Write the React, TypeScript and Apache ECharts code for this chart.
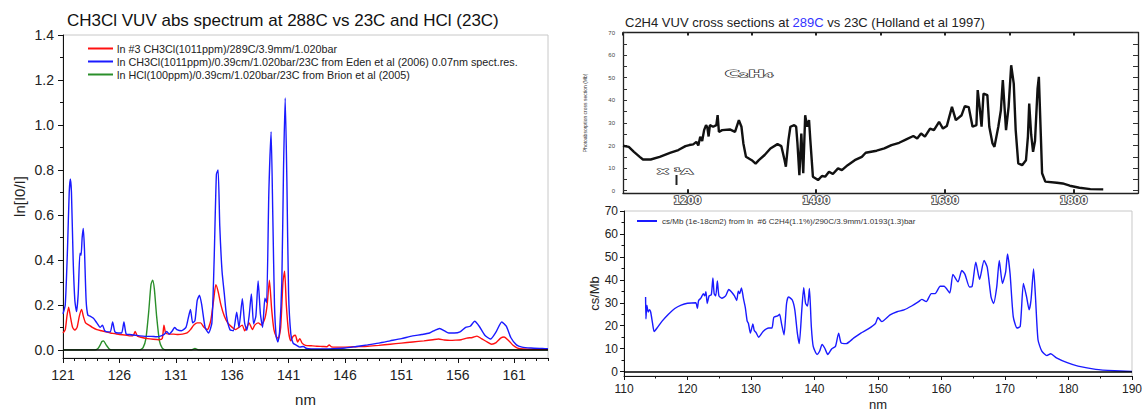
import React, { useEffect, useRef } from "react";
import * as echarts from "echarts";

const FONT = "'Liberation Sans', Arial, Helvetica, sans-serif";

// ---------- Left chart: CH3Cl / HCl ln[I0/I] vs nm ----------
const ch3clHotName = "ln #3 CH3Cl(1011ppm)/289C/3.9mm/1.020bar";
const ch3clEdenName = "ln CH3Cl(1011ppm)/0.39cm/1.020bar/23C from Eden et al (2006) 0.07nm spect.res.";
const hclName = "ln HCl(100ppm)/0.39cm/1.020bar/23C from Brion et al (2005)";

const ch3clHot: [number, number][] = [
  [121.0, 0.075], [121.2, 0.09], [121.35, 0.15], [121.5, 0.19], [121.65, 0.15], [121.85, 0.1],
  [122.05, 0.088], [122.25, 0.1], [122.45, 0.15], [122.65, 0.18], [122.8, 0.15], [123.0, 0.12],
  [123.3, 0.11], [123.6, 0.1], [124.0, 0.09], [124.4, 0.085], [124.8, 0.08], [125.2, 0.075],
  [125.6, 0.072], [126.0, 0.068], [126.5, 0.066], [127.0, 0.062], [127.25, 0.065], [127.4, 0.082],
  [127.6, 0.06], [128.0, 0.055], [128.5, 0.05], [129.0, 0.047], [129.5, 0.045], [129.8, 0.05],
  [129.95, 0.11], [130.1, 0.075], [130.4, 0.07], [130.8, 0.07], [131.2, 0.068], [131.6, 0.07],
  [132.0, 0.075], [132.3, 0.09], [132.6, 0.11], [132.9, 0.12], [133.2, 0.12], [133.5, 0.1],
  [133.8, 0.09], [134.1, 0.13], [134.35, 0.22], [134.55, 0.29], [134.75, 0.26], [135.0, 0.2],
  [135.3, 0.15], [135.6, 0.12], [136.0, 0.1], [136.3, 0.09], [136.6, 0.1], [136.9, 0.11],
  [137.1, 0.085], [137.3, 0.1], [137.5, 0.12], [137.8, 0.09], [138.0, 0.11], [138.3, 0.12],
  [138.6, 0.11], [138.9, 0.14], [139.1, 0.2], [139.3, 0.31], [139.5, 0.18], [139.7, 0.09],
  [139.9, 0.06], [140.1, 0.05], [140.3, 0.1], [140.5, 0.3], [140.65, 0.35], [140.8, 0.2],
  [141.0, 0.08], [141.2, 0.04], [141.4, 0.06], [141.6, 0.065], [141.8, 0.035], [142.0, 0.05],
  [142.2, 0.03], [142.5, 0.02], [143.0, 0.018], [143.5, 0.016], [144.0, 0.015], [144.4, 0.014],
  [144.6, 0.022], [144.8, 0.013], [145.2, 0.012], [146.0, 0.012], [147.0, 0.014], [148.0, 0.016],
  [149.0, 0.02], [150.0, 0.025], [151.0, 0.03], [152.0, 0.035], [153.0, 0.04], [153.8, 0.045],
  [154.3, 0.048], [154.8, 0.044], [155.3, 0.042], [155.8, 0.043], [156.3, 0.045], [156.8, 0.052],
  [157.3, 0.055], [157.7, 0.061], [158.1, 0.05], [158.6, 0.035], [159.0, 0.025], [159.4, 0.032],
  [159.8, 0.052], [160.1, 0.057], [160.5, 0.042], [160.9, 0.02], [161.3, 0.008], [161.8, 0.004],
  [162.5, 0.003], [163.5, 0.002], [164.0, 0.002],
];

const ch3clEden: [number, number][] = [
  [121.0, 0.16], [121.2, 0.2], [121.4, 0.45], [121.55, 0.7], [121.65, 0.76], [121.75, 0.7],
  [121.9, 0.4], [122.05, 0.22], [122.2, 0.17], [122.35, 0.25], [122.5, 0.43], [122.6, 0.42],
  [122.7, 0.5], [122.8, 0.54], [122.9, 0.45], [123.05, 0.22], [123.2, 0.155], [123.4, 0.15],
  [123.7, 0.14], [124.0, 0.12], [124.3, 0.1], [124.5, 0.11], [124.7, 0.085], [125.0, 0.08],
  [125.2, 0.08], [125.4, 0.124], [125.6, 0.08], [125.9, 0.075], [126.2, 0.075], [126.4, 0.124],
  [126.6, 0.07], [126.9, 0.068], [127.3, 0.066], [127.8, 0.062], [128.3, 0.06], [128.8, 0.06],
  [129.3, 0.058], [129.7, 0.062], [130.0, 0.07], [130.2, 0.082], [130.4, 0.07], [130.7, 0.085],
  [130.9, 0.1], [131.1, 0.09], [131.5, 0.085], [131.9, 0.1], [132.1, 0.14], [132.3, 0.18],
  [132.5, 0.12], [132.7, 0.13], [132.9, 0.22], [133.1, 0.243], [133.3, 0.2], [133.6, 0.1],
  [133.9, 0.075], [134.2, 0.12], [134.4, 0.4], [134.6, 0.78], [134.75, 0.8], [134.9, 0.55],
  [135.1, 0.35], [135.3, 0.25], [135.5, 0.15], [135.8, 0.09], [136.1, 0.085], [136.4, 0.167],
  [136.6, 0.1], [136.9, 0.227], [137.1, 0.12], [137.3, 0.087], [137.5, 0.15], [137.7, 0.248],
  [137.9, 0.115], [138.1, 0.15], [138.3, 0.306], [138.5, 0.16], [138.7, 0.1], [138.9, 0.23],
  [139.05, 0.21], [139.25, 0.7], [139.45, 0.97], [139.6, 0.6], [139.75, 0.2], [139.9, 0.06],
  [140.05, 0.035], [140.2, 0.08], [140.4, 0.3], [140.55, 0.8], [140.7, 1.12], [140.85, 0.75],
  [141.0, 0.25], [141.2, 0.07], [141.4, 0.03], [141.7, 0.02], [142.0, 0.012], [142.3, 0.015],
  [142.6, 0.006], [143.0, 0.004], [144.0, 0.004], [145.0, 0.005], [146.0, 0.008], [147.0, 0.015],
  [148.0, 0.022], [149.0, 0.03], [150.0, 0.04], [151.0, 0.05], [152.0, 0.062], [152.8, 0.068],
  [153.5, 0.075], [154.0, 0.088], [154.4, 0.095], [154.8, 0.085], [155.2, 0.075], [155.7, 0.075],
  [156.2, 0.08], [156.7, 0.1], [157.1, 0.105], [157.5, 0.127], [157.9, 0.105], [158.4, 0.065],
  [158.9, 0.048], [159.4, 0.08], [159.9, 0.124], [160.3, 0.105], [160.7, 0.055], [161.2, 0.022],
  [161.7, 0.012], [162.5, 0.008], [163.5, 0.006], [164.0, 0.005],
];

const hclBrion: [number, number][] = [
  [121.0, 0], [123.8, 0], [124.1, 0.006], [124.3, 0.022], [124.45, 0.037], [124.6, 0.04],
  [124.8, 0.024], [125.1, 0.004], [125.3, 0], [127.8, 0], [128.1, 0.01], [128.35, 0.05],
  [128.6, 0.17], [128.8, 0.29], [128.95, 0.31], [129.1, 0.27], [129.3, 0.15], [129.55, 0.04],
  [129.8, 0.008], [130.1, 0], [132.4, 0], [132.7, 0.006], [133.0, 0], [164.0, 0],
];

const leftXTicks = [121, 126, 131, 136, 141, 146, 151, 156, 161];
const leftXMinor = [122, 123, 124, 125, 127, 128, 129, 130, 132, 133, 134, 135, 137, 138, 139, 140,
  142, 143, 144, 145, 147, 148, 149, 150, 152, 153, 154, 155, 157, 158, 159, 160, 162, 163, 164];
const leftYTicks = [0, 0.2, 0.4, 0.6, 0.8, 1.0, 1.2, 1.4];
const leftYMinor = [0.1, 0.3, 0.5, 0.7, 0.9, 1.1, 1.3];

// ---------- Right top: Holland et al 1997 (Angstrom) ----------
const holland: [number, number][] = [
  [1100, 19.9], [1109, 19.4], [1117, 17.2], [1126, 15], [1131, 13.8], [1143, 13.8], [1157, 15],
  [1174, 16.8], [1186, 18], [1197, 19.7], [1203, 20.2], [1209, 20.5], [1214, 21.6], [1217, 20],
  [1220, 23.9], [1223, 22], [1226, 26.8], [1229, 29], [1231, 28], [1233, 24], [1235, 29],
  [1240, 28.3], [1245, 29], [1247, 33.4], [1249, 26], [1254, 26.8], [1266, 27.1], [1274, 26],
  [1280, 31.2], [1284, 28.3], [1287, 20.9], [1291, 15], [1300, 13.5], [1306, 12], [1311, 13.5],
  [1320, 15.8], [1329, 18.7], [1340, 20.6], [1346, 19.7], [1351, 13.5], [1353, 10.6], [1357, 22.4],
  [1360, 28.3], [1366, 29], [1369, 28.3], [1371, 20.9], [1374, 6.9], [1377, 25.3], [1380, 7.7],
  [1383, 33.4], [1386, 28.3], [1389, 31.2], [1391, 22.4], [1395, 6.2], [1403, 4.7], [1409, 6.5],
  [1414, 6.2], [1420, 8.4], [1426, 7.4], [1434, 9.9], [1440, 9.1], [1449, 11.3], [1460, 13.5],
  [1471, 15], [1477, 16.8], [1494, 17.7], [1506, 18.7], [1517, 20.2], [1529, 21.2], [1540, 22.7],
  [1551, 24.2], [1557, 23.1], [1563, 25.3], [1569, 23.9], [1577, 27.5], [1583, 26.8], [1591, 30.5],
  [1597, 27.5], [1603, 28.6], [1611, 37.1], [1617, 31.2], [1626, 33.4], [1631, 37.4], [1637, 37],
  [1643, 28.3], [1649, 29], [1651, 44.5], [1654, 37], [1657, 28.3], [1660, 43], [1666, 42.3],
  [1669, 28.3], [1674, 20.9], [1677, 19.4], [1683, 28.3], [1687, 35.6], [1690, 48.9], [1693, 35.6],
  [1695, 26.8], [1699, 37.1], [1703, 55.5], [1707, 47.4], [1710, 26.8], [1714, 12.1], [1720, 11.3],
  [1726, 13.5], [1729, 23.9], [1731, 38.6], [1734, 25], [1737, 17.2], [1740, 22], [1744, 45.2],
  [1746, 50.4], [1749, 25], [1751, 7.7], [1756, 4], [1774, 3.5], [1783, 3.2], [1794, 2.2],
  [1809, 1.3], [1826, 0.7], [1846, 0.6],
];
const rtXTicks = [1200, 1400, 1600, 1800];
const rtXMinor = [1100, 1300, 1500, 1700];
const rtYTicks = [0, 10, 20, 30, 40, 50, 60, 70];
const rtYMinor = [5, 15, 25, 35, 45, 55, 65];

// ---------- Right bottom: C2H4 cross section at 290C ----------
const c2h4Name = "cs/Mb (1e-18cm2) from ln  #6 C2H4(1.1%)/290C/3.9mm/1.0193(1.3)bar";
const c2h4Hot: [number, number][] = [
  [113.4, 32.5], [113.45, 23], [113.6, 29], [113.8, 26], [114.0, 27], [114.2, 26], [114.5, 21],
  [114.75, 17.5], [115.2, 19], [116, 22], [117, 25], [118, 27.5], [119, 29], [120, 29.8],
  [121.3, 30], [121.55, 27.6], [121.75, 31], [122.1, 32], [122.5, 34], [122.7, 33], [122.9, 34.8],
  [123.1, 29.7], [123.4, 33], [123.75, 33.5], [124.0, 40.8], [124.2, 34], [124.45, 33],
  [124.7, 39.5], [124.95, 33], [125.4, 32], [126.0, 33], [126.5, 35.8], [127.0, 34.5], [127.4, 33],
  [127.75, 31], [128.0, 35], [128.2, 34], [128.5, 36.5], [128.8, 32], [129.1, 28], [129.4, 22],
  [129.6, 21], [129.9, 16.8], [130.3, 20.8], [130.5, 18], [130.8, 17], [131.2, 15], [131.9, 17.5],
  [132.8, 19], [133.3, 19], [133.6, 23.7], [134.2, 24.3], [134.5, 25], [134.8, 21], [135.2, 16],
  [135.6, 29.7], [135.9, 32.6], [136.5, 31.2], [136.9, 26.9], [137.3, 16.8], [137.6, 12.2],
  [138.0, 26.9], [138.3, 36.6], [138.6, 29.7], [138.9, 28.6], [139.2, 36.2], [139.5, 19.7],
  [139.8, 11], [140.4, 7.5], [140.8, 8.9], [141.2, 11.8], [141.6, 10.3], [142.1, 7.5], [142.7, 9.9],
  [143.3, 11], [143.8, 16.8], [144.2, 12.5], [145.0, 12.2], [146.2, 14.7], [147.3, 16.8],
  [148.4, 18.5], [149.6, 21], [150.0, 23.6], [150.6, 21.8], [151.9, 24.7], [153.0, 26.1],
  [154.1, 26.9], [155.3, 28.6], [156.4, 30.5], [156.9, 31.5], [157.6, 30.5], [158.4, 34],
  [159.0, 34], [159.8, 37.2], [160.4, 37.2], [161.3, 34.3], [161.8, 42.4], [162.6, 39.1],
  [163.2, 44.1], [163.7, 42.4], [164.4, 36.9], [164.8, 37], [165.4, 47.7], [166.0, 40.2],
  [166.7, 48.4], [167.2, 45.5], [167.8, 32.6], [168.2, 29.7], [168.7, 36.9], [169.1, 48.4],
  [169.6, 38.4], [170.1, 43.4], [170.4, 51.3], [170.8, 42.7], [171.3, 24], [171.9, 19],
  [172.4, 19.7], [172.9, 38.4], [173.4, 32.6], [173.8, 26.9], [174.1, 31.2], [174.5, 44.8],
  [174.8, 32.6], [175.2, 13.9], [175.8, 8.9], [176.6, 7], [177.2, 7.8], [178.1, 6], [179.8, 3.9],
  [181.5, 2.4], [184.3, 1], [187.2, 0.4], [190.0, 0.1],
];
const rbXTicks = [110, 120, 130, 140, 150, 160, 170, 180, 190];
const rbXMinor = [115, 125, 135, 145, 155, 165, 175, 185];
const rbYTicks = [0, 10, 20, 30, 40, 50, 60, 70];
const rbYMinor = [5, 15, 25, 35, 45, 55, 65];

const BLACK = "#111";
const zeroLine = (w: number) => ({
  silent: true,
  symbol: "none",
  label: { show: false },
  lineStyle: { color: "#000", width: w, type: "solid" },
  data: [{ yAxis: 0 }],
});

function buildOption(): any {
  const txt = { fontFamily: FONT, color: "#222" };
  return {
    animation: false,
    backgroundColor: "#fff",
    textStyle: { fontFamily: FONT },
    title: [
      {
        text: "CH3Cl VUV abs spectrum at 288C vs 23C and HCl (23C)",
        left: 67, top: 12, padding: 0,
        textStyle: { fontSize: 17, fontWeight: "normal", color: "#111", fontFamily: FONT },
      },
      {
        text: "C2H4 VUV cross sections at {b|289C} vs 23C (Holland et al 1997)",
        left: 625, top: 16, padding: 0,
        textStyle: {
          fontSize: 13, fontWeight: "normal", color: "#222", fontFamily: FONT,
          rich: { b: { color: "#3333ff", fontSize: 13, fontFamily: FONT } },
        },
      },
    ],
    legend: [
      {
        left: 88, top: 43, orient: "vertical", itemWidth: 25, itemHeight: 2, itemGap: 2,
        icon: "rect", padding: 0,
        data: [ch3clHotName, ch3clEdenName, hclName],
        textStyle: { fontSize: 10.8, color: "#222", fontFamily: FONT, padding: [0, 0, 0, -1] },
      },
      {
        left: 637, top: 217, orient: "vertical", itemWidth: 20, itemHeight: 2, icon: "rect",
        padding: 0, data: [c2h4Name],
        textStyle: { fontSize: 8, color: "#333", fontFamily: FONT },
      },
    ],
    grid: [
      { left: 63, top: 35, width: 485, height: 328.3, show: true, borderColor: "#c8c8c8", borderWidth: 1 },
      { left: 623, top: 32.5, width: 515, height: 160.8, show: false },
      { left: 624, top: 211, width: 514, height: 165.7, show: true, borderColor: "#c8c8c8", borderWidth: 1 },
    ],
    xAxis: [
      {
        gridIndex: 0, type: "value", min: 121, max: 164, position: "bottom",
        axisLine: { show: true, onZero: false, lineStyle: { color: BLACK, width: 1 } },
        axisTick: { show: true, customValues: leftXTicks, length: 5, inside: false, lineStyle: { color: BLACK } },
        axisLabel: { customValues: leftXTicks, fontSize: 14, margin: 10, ...txt },
        splitLine: { show: false },
        name: "nm", nameLocation: "middle", nameGap: 34,
        nameTextStyle: { fontSize: 15, ...txt },
      },
      {
        gridIndex: 0, type: "value", min: 121, max: 164, position: "bottom",
        axisLine: { show: false, onZero: false },
        axisTick: { show: true, customValues: leftXMinor, length: 3, lineStyle: { color: BLACK } },
        axisLabel: { show: false }, splitLine: { show: false },
      },
      {
        gridIndex: 1, type: "value", min: 1100, max: 1900, position: "bottom",
        axisLine: { show: true, onZero: false, lineStyle: { color: "#222", width: 1.3 } },
        axisTick: { show: true, customValues: rtXTicks, inside: true, length: 4, lineStyle: { color: "#222", width: 2 } },
        axisLabel: {
          customValues: rtXTicks, fontSize: 10, fontWeight: "bold", margin: 2,
          formatter: (v: number) => String(v),
          color: "#fff", textBorderColor: "#333", textBorderWidth: 1.6, fontFamily: "DejaVu Sans",
        },
        splitLine: { show: false },
      },
      {
        gridIndex: 1, type: "value", min: 1100, max: 1900, position: "top",
        axisLine: { show: true, onZero: false, lineStyle: { color: "#222", width: 1.3 } },
        axisTick: { show: true, customValues: rtXMinor.concat(rtXTicks), inside: true, length: 3, lineStyle: { color: "#222", width: 2 } },
        axisLabel: { show: false }, splitLine: { show: false },
      },
      {
        gridIndex: 2, type: "value", min: 110, max: 190, position: "bottom",
        axisLine: { show: true, onZero: false, lineStyle: { color: BLACK, width: 1 } },
        axisTick: { show: true, customValues: rbXTicks, length: 4, lineStyle: { color: BLACK } },
        axisLabel: { customValues: rbXTicks, fontSize: 12, margin: 7, ...txt },
        splitLine: { show: false },
        name: "nm", nameLocation: "middle", nameGap: 22,
        nameTextStyle: { fontSize: 13, ...txt },
      },
      {
        gridIndex: 2, type: "value", min: 110, max: 190, position: "bottom",
        axisLine: { show: false, onZero: false },
        axisTick: { show: true, customValues: rbXMinor, length: 2.5, lineStyle: { color: BLACK } },
        axisLabel: { show: false }, splitLine: { show: false },
      },
    ],
    yAxis: [
      {
        gridIndex: 0, type: "value", min: -0.0363, max: 1.4, position: "left",
        axisLine: { show: true, onZero: false, lineStyle: { color: BLACK, width: 1 } },
        axisTick: { show: true, customValues: leftYTicks, length: 5, lineStyle: { color: BLACK } },
        axisLabel: { customValues: leftYTicks, fontSize: 14, margin: 9, formatter: (v: number) => v.toFixed(1), ...txt },
        splitLine: { show: false },
        name: "ln[I0/I]", nameLocation: "middle", nameGap: 36, nameRotate: 90,
        nameTextStyle: { fontSize: 15, ...txt },
      },
      {
        gridIndex: 0, type: "value", min: -0.0363, max: 1.4, position: "left",
        axisLine: { show: false, onZero: false },
        axisTick: { show: true, customValues: leftYMinor, length: 3, lineStyle: { color: BLACK } },
        axisLabel: { show: false }, splitLine: { show: false },
      },
      {
        gridIndex: 1, type: "value", min: -1.15, max: 70, position: "left",
        axisLine: { show: true, onZero: false, lineStyle: { color: "#222", width: 1.3 } },
        axisTick: { show: true, customValues: rtYTicks.concat(rtYMinor), inside: true, length: 4, lineStyle: { color: "#333" } },
        axisLabel: { customValues: rtYTicks, fontSize: 6, margin: 8, color: "#444", fontFamily: FONT },
        splitLine: { show: false },
        name: "Photoabsorption cross section (Mb)", nameLocation: "middle", nameGap: 36, nameRotate: 90,
        nameTextStyle: { fontSize: 5, color: "#333", fontFamily: FONT },
      },
      {
        gridIndex: 1, type: "value", min: -1.15, max: 70, position: "right",
        axisLine: { show: true, onZero: false, lineStyle: { color: "#222", width: 1.3 } },
        axisTick: { show: true, customValues: rtYTicks.concat(rtYMinor), inside: true, length: 5, lineStyle: { color: "#333" } },
        axisLabel: { show: false }, splitLine: { show: false },
      },
      {
        gridIndex: 2, type: "value", min: -1.9, max: 70, position: "left",
        axisLine: { show: true, onZero: false, lineStyle: { color: BLACK, width: 1 } },
        axisTick: { show: true, customValues: rbYTicks, length: 4, lineStyle: { color: BLACK } },
        axisLabel: { customValues: rbYTicks, fontSize: 12, margin: 6, ...txt },
        splitLine: { show: false },
        name: "cs/Mb", nameLocation: "middle", nameGap: 22, nameRotate: 90,
        nameTextStyle: { fontSize: 13, ...txt },
      },
      {
        gridIndex: 2, type: "value", min: -1.9, max: 70, position: "left",
        axisLine: { show: false, onZero: false },
        axisTick: { show: true, customValues: rbYMinor, length: 2.5, lineStyle: { color: BLACK } },
        axisLabel: { show: false }, splitLine: { show: false },
      },
    ],
    series: [
      {
        name: ch3clHotName, type: "line", xAxisIndex: 0, yAxisIndex: 0, data: ch3clHot,
        showSymbol: false, smooth: 0.2, lineStyle: { color: "#ff1010", width: 1.4 }, itemStyle: { color: "#ff1010" },
      },
      {
        name: ch3clEdenName, type: "line", xAxisIndex: 0, yAxisIndex: 0, data: ch3clEden,
        showSymbol: false, smooth: 0.2, lineStyle: { color: "#1a1aff", width: 1.4 }, itemStyle: { color: "#1a1aff" },
      },
      {
        name: hclName, type: "line", xAxisIndex: 0, yAxisIndex: 0, data: hclBrion,
        showSymbol: false, smooth: 0.2, lineStyle: { color: "#2a8f2a", width: 1.4 }, itemStyle: { color: "#2a8f2a" },
        markLine: zeroLine(1.5), z: 1,
      },
      {
        name: "Holland et al 1997", type: "line", xAxisIndex: 2, yAxisIndex: 2, data: holland,
        showSymbol: false, lineStyle: { color: "#111", width: 2.4 }, itemStyle: { color: "#111" },
      },
      {
        name: c2h4Name, type: "line", xAxisIndex: 4, yAxisIndex: 4, data: c2h4Hot,
        showSymbol: false, smooth: 0.2, lineStyle: { color: "#1a1aff", width: 1.4 }, itemStyle: { color: "#1a1aff" },
        markLine: zeroLine(1.5),
      },
    ],
    graphic: [
      {
        type: "text", left: 724, top: 69,
        style: { text: "C₂H₄", fontSize: 9, fontWeight: "bold", fill: "#fff", stroke: "#333", lineWidth: 1, fontFamily: "DejaVu Sans" },
        scaleX: 2.2,
      },
      {
        type: "text", left: 656, top: 168,
        style: { text: "X ¹A", fontSize: 7, fontWeight: "bold", fill: "#fff", stroke: "#333", lineWidth: 1, fontFamily: "DejaVu Sans" },
        scaleX: 2.2,
      },
      {
        type: "rect", left: 675.5, top: 175, shape: { width: 2, height: 10 }, style: { fill: "#222" },
      },
    ],
  };
}

export default function App() {
  const ref = useRef<HTMLDivElement>(null);
  useEffect(() => {
    if (!ref.current) return;
    const chart = echarts.init(ref.current, null, { renderer: "svg" });
    chart.setOption(buildOption());
    return () => chart.dispose();
  }, []);
  return (
    <div
      ref={ref}
      style={{ position: "fixed", left: 0, top: 0, width: 1145, height: 412, background: "#fff" }}
    />
  );
}
